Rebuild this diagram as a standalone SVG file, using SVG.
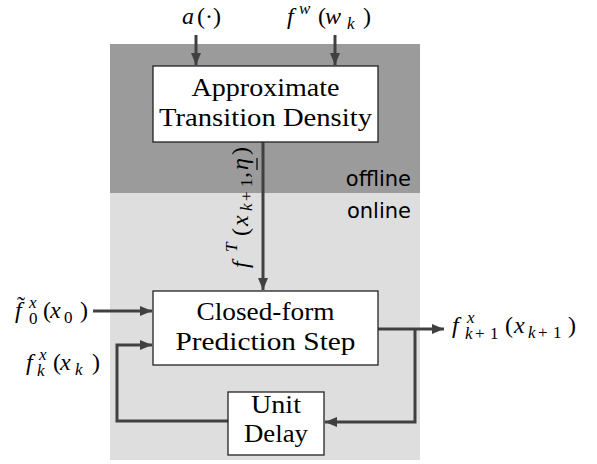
<svg xmlns="http://www.w3.org/2000/svg" width="597" height="464" viewBox="0 0 597 464">
<defs>
<marker id="ah" markerUnits="userSpaceOnUse" markerWidth="13" markerHeight="11" refX="12" refY="5" orient="auto">
<path d="M0,0 L12,5 L0,10 z" fill="#404040"/>
</marker>
</defs>

<g id="regions">
<rect x="110" y="44" width="310" height="149" fill="#9b9b9b"/>
<rect x="110" y="193" width="310" height="267" fill="#dedede"/>
<g font-family="DejaVu Sans, sans-serif" font-size="21" text-anchor="end" fill="#000">
<text x="411" y="186">offline</text>
<text x="411" y="218">online</text>
</g>
</g>

<g id="connectors" fill="none" stroke="#404040" stroke-width="3">
<line x1="196" y1="35" x2="196" y2="65" marker-end="url(#ah)"/>
<line x1="335" y1="35" x2="335" y2="65" marker-end="url(#ah)"/>
<line x1="263" y1="142" x2="263" y2="290" marker-end="url(#ah)"/>
<line x1="93" y1="311" x2="152" y2="311" marker-end="url(#ah)"/>
<polyline points="228,421 117,421 117,345 152,345" marker-end="url(#ah)"/>
<line x1="378" y1="329" x2="444" y2="329" marker-end="url(#ah)"/>
<polyline points="415,329 415,422 325,422" marker-end="url(#ah)"/>
</g>

<g font-family="Liberation Serif, serif" font-size="26" text-anchor="middle" fill="#000">
<g id="node-approx">
<rect x="153" y="66" width="225" height="76" fill="#fff" stroke="#222" stroke-width="1.3"/>
<text x="265.5" y="96" textLength="148" lengthAdjust="spacingAndGlyphs">Approximate</text>
<text x="265.5" y="126" textLength="213" lengthAdjust="spacingAndGlyphs">Transition Density</text>
</g>
<g id="node-predict">
<rect x="153" y="291" width="225" height="74" fill="#fff" stroke="#222" stroke-width="1.3"/>
<text x="265.5" y="320" textLength="138" lengthAdjust="spacingAndGlyphs">Closed-form</text>
<text x="265.5" y="350" textLength="180" lengthAdjust="spacingAndGlyphs">Prediction Step</text>
</g>
<g id="node-delay">
<rect x="228" y="392" width="96" height="63" fill="#fff" stroke="#222" stroke-width="1.3"/>
<text x="276" y="413" textLength="50" lengthAdjust="spacingAndGlyphs">Unit</text>
<text x="276" y="442" textLength="64" lengthAdjust="spacingAndGlyphs">Delay</text>
</g>
</g>

<g id="labels" font-family="Liberation Serif, serif" font-size="24" fill="#000">
<text><tspan font-style="italic" x="182" y="24">a</tspan><tspan x="197" y="24">(</tspan><tspan x="205" y="24">·</tspan><tspan x="213" y="24">)</tspan></text>
<text><tspan font-style="italic" x="287" y="24">f</tspan><tspan font-style="italic" font-size="17" x="299" y="14">w</tspan><tspan x="318" y="24">(</tspan><tspan font-style="italic" x="325" y="24">w</tspan><tspan font-style="italic" font-size="17" x="347" y="29">k</tspan><tspan x="363" y="24">)</tspan></text>

<text><tspan font-style="italic" x="15" y="318">f</tspan><tspan font-style="italic" font-size="17" x="29" y="308">x</tspan><tspan font-size="17" x="29" y="324">0</tspan><tspan x="43" y="318">(</tspan><tspan font-style="italic" x="50" y="318">x</tspan><tspan font-size="17" x="64" y="323">0</tspan><tspan x="80" y="318">)</tspan></text>
<text x="17" y="313">˜</text>

<text><tspan font-style="italic" x="26" y="370">f</tspan><tspan font-style="italic" font-size="17" x="39" y="360">x</tspan><tspan font-style="italic" font-size="17" x="37" y="376">k</tspan><tspan x="53" y="370">(</tspan><tspan font-style="italic" x="60" y="370">x</tspan><tspan font-style="italic" font-size="17" x="75" y="375">k</tspan><tspan x="92" y="370">)</tspan></text>

<text><tspan font-style="italic" x="452" y="333">f</tspan><tspan font-style="italic" font-size="17" x="467" y="323">x</tspan><tspan font-size="17" x="465 475 490" y="339"><tspan font-style="italic">k</tspan>+1</tspan><tspan x="505" y="333">(</tspan><tspan font-style="italic" x="514" y="333">x</tspan><tspan font-size="17" x="528 538 553" y="338"><tspan font-style="italic">k</tspan>+1</tspan><tspan x="568" y="333">)</tspan></text>

<g transform="translate(248,207) rotate(-90)">
<text><tspan font-style="italic" x="-61" y="0">f</tspan><tspan font-style="italic" font-size="17" x="-45" y="-11">T</tspan><tspan x="-29" y="0">(</tspan><tspan font-style="italic" x="-19" y="0">x</tspan><tspan font-size="17" x="-4 6 20" y="4"><tspan font-style="italic">k</tspan>+1</tspan><tspan x="29" y="0">,</tspan><tspan font-style="italic" x="37" y="0">η</tspan><tspan x="52" y="0">)</tspan></text>
<line x1="37" y1="9" x2="49" y2="9" stroke="#000" stroke-width="1.2"/>
</g>
</g>
</svg>
